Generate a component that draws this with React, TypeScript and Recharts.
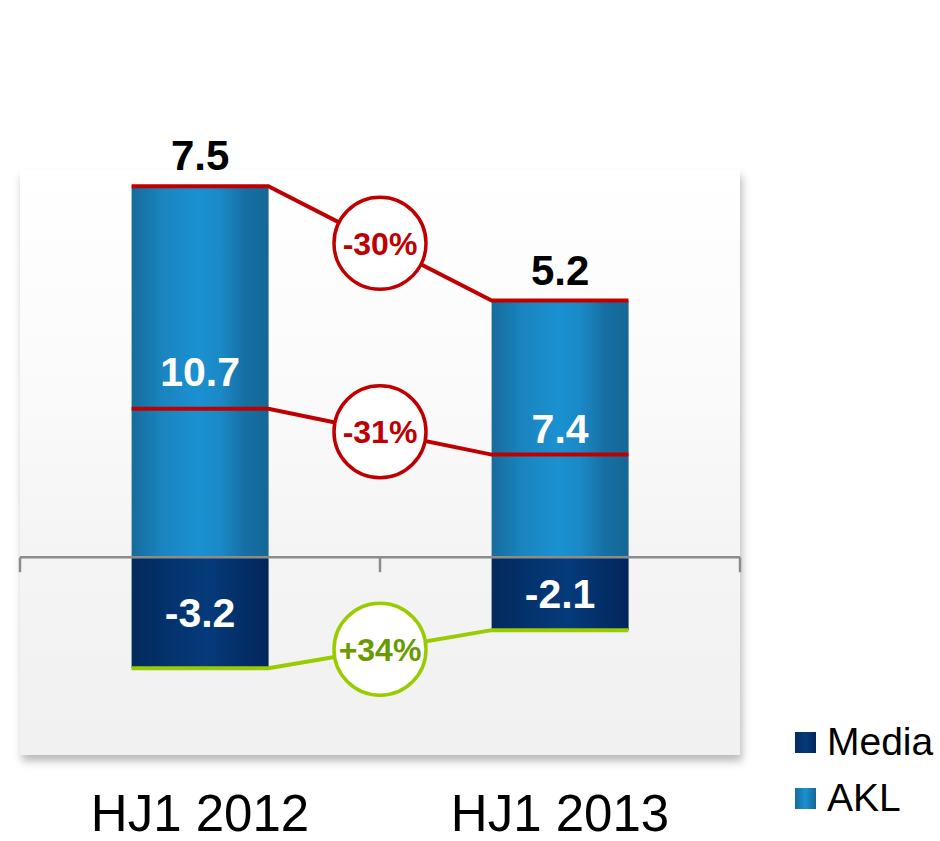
import React from "react";
import {
  Bar,
  ComposedChart,
  LabelList,
  Legend,
  Line,
  ReferenceArea,
  ReferenceLine,
  XAxis,
  YAxis,
} from "recharts";

const periods = ["HJ1 2012", "HJ1 2013"];
const akl = [10.7, 7.4];
const media = [-3.2, -2.1];
const totals = ["7.5", "5.2"];
const changeTotal = "-30%";
const changeAkl = "-31%";
const changeMedia = "+34%";

const data = periods.map((name, i) => ({
  name,
  akl: akl[i],
  media: media[i],
  total: totals[i],
}));

// bar occupies the middle of each category band
const GAP = 0.31;
// the AKL comparison line sits a bit below the AKL label
const MID = 0.4;

const bridge = (vals: number[], badge: string) => [
  { x: GAP, y: vals[0] },
  { x: 1 - GAP, y: vals[0] },
  { x: 1, y: (vals[0] + vals[1]) / 2, badge },
  { x: 1 + GAP, y: vals[1] },
  { x: 2 - GAP, y: vals[1] },
];

const topLine = bridge(akl, changeTotal);
const aklLine = bridge(
  akl.map((v) => v * MID),
  changeAkl
);
const mediaLine = bridge(media, changeMedia);

const RED = "#c00000";
const GREEN = "#99cc00";

const badgeDot = (stroke: string, color: string) => (props: any) => {
  const { cx, cy, payload, index } = props;
  if (!payload || !payload.badge) return <g key={index} />;
  return (
    <g key={index}>
      <circle cx={cx} cy={cy} r={46} fill="#fff" stroke={stroke} strokeWidth={3.5} />
      <text
        x={cx}
        y={cy}
        dy="0.36em"
        textAnchor="middle"
        fontSize={32}
        fontWeight="bold"
        fill={color}
      >
        {payload.badge}
      </text>
    </g>
  );
};

const PeriodTick = (props: any) => {
  const { x, y, payload } = props;
  return (
    <text x={x} y={y + 76} textAnchor="middle" fontSize={51} fill="#000">
      {payload.value}
    </text>
  );
};

const TotalLabel = (props: any) => {
  const vb = props.viewBox || props;
  const top = Math.min(vb.y, vb.y + vb.height);
  return (
    <text
      x={vb.x + vb.width / 2}
      y={top - 16}
      textAnchor="middle"
      fontSize={42}
      fontWeight="bold"
      fill="#000"
    >
      {props.value}
    </text>
  );
};

const swatch: Record<string, string> = {
  media: "linear-gradient(90deg, #032a5c, #053b7a 50%, #03265a)",
  akl: "linear-gradient(90deg, #176d9c, #1b90d0 50%, #156795)",
};

const renderLegend = (props: any) => {
  const items = (props.payload || [])
    .filter((it: any) => swatch[it.dataKey])
    .reverse();
  return (
    <div>
      {items.map((it: any) => (
        <div
          key={it.value}
          style={{ display: "flex", alignItems: "center", height: 56 }}
        >
          <span
            style={{
              width: 21,
              height: 21,
              background: swatch[it.dataKey],
              marginRight: 11,
              display: "inline-block",
            }}
          />
          <span style={{ fontSize: 39, color: "#000" }}>{it.value}</span>
        </div>
      ))}
    </div>
  );
};

const PanelShape = (props: any) => {
  const { x, y, width, height } = props;
  return (
    <rect
      x={x}
      y={y}
      width={width}
      height={height}
      fill="url(#panelGrad)"
      filter="url(#panelShadow)"
    />
  );
};

export default function App() {
  return (
    <div
      style={{
        position: "absolute",
        left: 0,
        top: 0,
        width: 940,
        height: 841,
        background: "#fff",
        fontFamily: "'Liberation Sans', Arial, sans-serif",
      }}
    >
      <ComposedChart
        width={940}
        height={841}
        data={data}
        stackOffset="sign"
        barCategoryGap="31%"
        margin={{ top: 89, right: 200, bottom: 0, left: 20 }}
      >
        <defs>
          <linearGradient id="aklGrad" x1="0" x2="1" y1="0" y2="0">
            <stop offset="0%" stopColor="#176c9b" />
            <stop offset="22%" stopColor="#1a84bf" />
            <stop offset="48%" stopColor="#1b91d1" />
            <stop offset="65%" stopColor="#1a89c6" />
            <stop offset="82%" stopColor="#1670a4" />
            <stop offset="100%" stopColor="#156795" />
          </linearGradient>
          <linearGradient id="mediaGrad" x1="0" x2="1" y1="0" y2="0">
            <stop offset="0%" stopColor="#032a5c" />
            <stop offset="30%" stopColor="#04336e" />
            <stop offset="55%" stopColor="#053b7b" />
            <stop offset="100%" stopColor="#03265a" />
          </linearGradient>
          <linearGradient id="panelGrad" x1="0" x2="0" y1="0" y2="1">
            <stop offset="0%" stopColor="#ffffff" />
            <stop offset="40%" stopColor="#fafafa" />
            <stop offset="66%" stopColor="#f4f4f4" />
            <stop offset="100%" stopColor="#f1f1f1" />
          </linearGradient>
          <filter id="panelShadow" x="-5%" y="-5%" width="110%" height="115%">
            <feDropShadow dx="2" dy="6" stdDeviation="4" floodColor="#000" floodOpacity="0.28" />
          </filter>
        </defs>
        <XAxis
          dataKey="name"
          axisLine={false}
          tickLine={false}
          tickSize={0}
          tickMargin={0}
          height={86}
          tick={<PeriodTick />}
        />
        <XAxis
          xAxisId="num"
          type="number"
          dataKey="x"
          domain={[0, 2]}
          allowDataOverflow
          hide
        />
        <YAxis type="number" domain={[-5.7, 13.5]} allowDataOverflow hide />
        <ReferenceArea
          xAxisId="num"
          x1={0}
          x2={2}
          y1={-5.7}
          y2={11.16}
          shape={<PanelShape />}
        />
        <Bar
          dataKey="akl"
          name="AKL"
          stackId="s"
          fill="url(#aklGrad)"
          isAnimationActive={false}
        >
          <LabelList
            dataKey="akl"
            position="center"
            fill="#fff"
            fontSize={41}
            fontWeight="bold"
            formatter={(v: any) => Number(v).toFixed(1)}
          />
          <LabelList dataKey="total" content={<TotalLabel />} />
        </Bar>
        <Bar
          dataKey="media"
          name="Media"
          stackId="s"
          fill="url(#mediaGrad)"
          isAnimationActive={false}
        >
          <LabelList
            dataKey="media"
            position="center"
            fill="#fff"
            fontSize={41}
            fontWeight="bold"
            formatter={(v: any) => Number(v).toFixed(1)}
          />
        </Bar>
        <ReferenceLine y={0} stroke="#8c8c8c" strokeWidth={2.5} />
        {[0, 1, 2].map((t) => (
          <ReferenceLine
            key={t}
            xAxisId="num"
            segment={[
              { x: t, y: 0 },
              { x: t, y: -0.43 },
            ]}
            stroke="#8c8c8c"
            strokeWidth={2.5}
          />
        ))}
        <Line
          xAxisId="num"
          data={topLine}
          dataKey="y"
          type="linear"
          stroke={RED}
          strokeWidth={4}
          dot={badgeDot(RED, RED)}
          activeDot={false}
          legendType="none"
          isAnimationActive={false}
        />
        <Line
          xAxisId="num"
          data={aklLine}
          dataKey="y"
          type="linear"
          stroke={RED}
          strokeWidth={4}
          dot={badgeDot(RED, RED)}
          activeDot={false}
          legendType="none"
          isAnimationActive={false}
        />
        <Line
          xAxisId="num"
          data={mediaLine}
          dataKey="y"
          type="linear"
          stroke={GREEN}
          strokeWidth={4}
          dot={badgeDot(GREEN, "#6a9a00")}
          activeDot={false}
          legendType="none"
          isAnimationActive={false}
        />
        <Legend
          layout="vertical"
          align="center"
          verticalAlign="middle"
          content={renderLegend}
          wrapperStyle={{ left: 795, top: 714, width: 145 }}
        />
      </ComposedChart>
    </div>
  );
}
